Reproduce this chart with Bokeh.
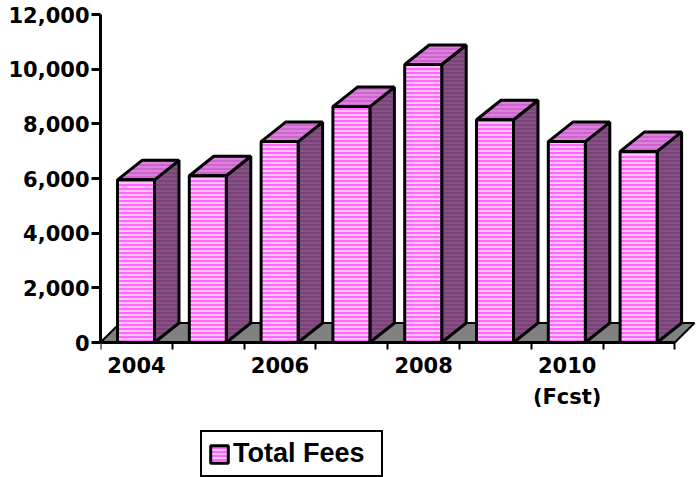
from bokeh.plotting import figure
from bokeh.embed import file_html
from bokeh.resources import INLINE
from bokeh.models import FixedTicker, Range1d, Legend, LegendItem, NumeralTickFormatter

# data
years = ["2004", "", "2006", "", "2008", "", "2010\n(Fcst)", ""]
fees = [5950, 6100, 7350, 8630, 10170, 8150, 7350, 6990]
series_name = "Total Fees"
y_ticks = [0, 2000, 4000, 6000, 8000, 10000, 12000]

# layout constants (category units / value units)
PX_X = 71.8
PX_Y = 328 / 12000
DX = 24.5 / PX_X
DY = 19.5 / PX_Y
LEFT, RIGHT = 17 / PX_X, 54 / PX_X

W, H = 696, 477
ml, mt = 100, 14
base_px = 342

p = figure(width=W, height=H, output_backend="svg", toolbar_location=None,
           x_range=Range1d(0, (W - ml) / PX_X),
           y_range=Range1d(-(H - base_px) / PX_Y, 12000),
           min_border_left=ml, min_border_top=mt, min_border_bottom=0, min_border_right=0,
           outline_line_color=None, background_fill_color=None, border_fill_color=None)
p.grid.visible = False

n = len(fees)
LW = 3
# floor
p.patch([0, n, n + DX * 0.8, DX * 0.8], [0, 0, DY, DY], fill_color="#808080", line_color="black", line_width=2)

xs = [i + LEFT for i in range(n)]
xe = [i + RIGHT for i in range(n)]
stripe = dict(hatch_pattern="horizontal_line", hatch_scale=4.0, hatch_weight=1.5)
# side
p.patches([[b, b + DX, b + DX, b] for b in xe],
          [[0, DY, v + DY, v] for v in fees],
          fill_color="#7F3F7F", hatch_color="#808080", hatch_alpha=0.45, line_color="black", line_width=LW, **stripe)
# top
p.patches([[a, b, b + DX, a + DX] for a, b in zip(xs, xe)],
          [[v, v, v + DY, v + DY] for v in fees],
          fill_color="#CC66CC", hatch_color="#EE99EE", hatch_alpha=0.7, line_color="black", line_width=LW, **stripe)
# front
front = p.vbar(x=[(a + b) / 2 for a, b in zip(xs, xe)], width=RIGHT - LEFT, bottom=0, top=fees,
               fill_color="#FF66FF", hatch_color="#FFFFFF", hatch_alpha=0.8,
               line_color="black", line_width=LW, **stripe)

# axes
font = "DejaVu Sans"
p.yaxis.ticker = FixedTicker(ticks=y_ticks)
p.yaxis.formatter = NumeralTickFormatter(format="0,0")
p.yaxis.bounds = (0, 12000)
p.yaxis.axis_line_width = 3
p.yaxis.major_tick_line_width = 3
p.yaxis.major_tick_in = 0
p.yaxis.major_tick_out = 9
p.yaxis.minor_tick_line_color = None
p.yaxis.major_label_standoff = 2
p.yaxis.major_label_text_font = font
p.yaxis.major_label_text_font_style = "bold"
p.yaxis.major_label_text_font_size = "21px"
p.yaxis.major_label_text_color = "black"

centers = [i + 0.5 for i in range(n)]
p.xaxis.fixed_location = 0
p.xaxis.ticker = FixedTicker(ticks=centers, minor_ticks=list(range(n + 1)))
p.xaxis.major_label_overrides = {c: y for c, y in zip(centers, years)}
p.xaxis.bounds = (0, n)
p.xaxis.axis_line_width = 3
p.xaxis.major_tick_line_color = None
p.xaxis.minor_tick_line_width = 2
p.xaxis.minor_tick_line_color = "black"
p.xaxis.minor_tick_in = 0
p.xaxis.minor_tick_out = 7
p.xaxis.major_label_standoff = 4
p.xaxis.major_label_text_line_height = 1.3
p.xaxis.major_label_text_font = font
p.xaxis.major_label_text_font_style = "bold"
p.xaxis.major_label_text_font_size = "21px"
p.xaxis.major_label_text_color = "black"

legend = Legend(items=[LegendItem(label=series_name, renderers=[front])],
                location=(100, 0), orientation="horizontal",
                label_text_font="Liberation Sans", label_text_font_style="bold",
                label_text_font_size="27px", label_text_color="black",
                border_line_color="black", border_line_width=2, border_line_alpha=1,
                glyph_width=22, glyph_height=22, padding=6, margin=0, label_standoff=3,
                label_width=142,
                background_fill_color="white", background_fill_alpha=1)
p.add_layout(legend, "center")

open("out.html", "w").write(file_html(p, INLINE))
